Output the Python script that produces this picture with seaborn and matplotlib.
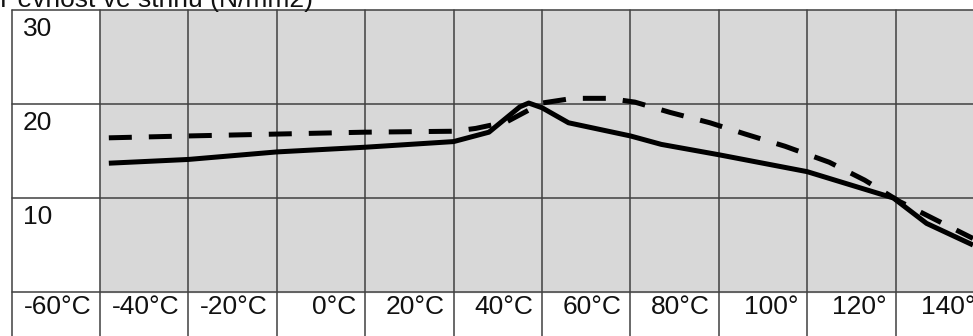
import numpy as np
import pandas as pd
import matplotlib
matplotlib.use("Agg")
import matplotlib.pyplot as plt
import seaborn as sns

# === Data (temperature in °C, strength in N/mm2) ===
solid_t = [-58, -40, -20, 0, 20, 28, 35, 37, 40, 46, 60, 67, 80, 100, 119.5, 127, 137.5]
solid_v = [13.7, 14.1, 14.9, 15.4, 16.0, 17.0, 19.7, 20.1, 19.6, 18.0, 16.6, 15.7, 14.6, 12.8, 10.0, 7.3, 5.0]

dashed_t = [-58, -40, -20, 0, 20, 25, 32, 40, 47, 55, 61, 69, 78, 86, 95, 105, 113, 121, 129, 137.5]
dashed_v = [16.4, 16.6, 16.8, 17.0, 17.1, 17.4, 18.1, 20.1, 20.6, 20.6, 20.2, 19.1, 18.0, 16.8, 15.5, 13.8, 11.9, 9.6, 7.7, 5.7]

x_ticks = [-60, -40, -20, 0, 20, 40, 60, 80, 100, 120, 140]
x_labels = ["-60°C", "-40°C", "-20°C", "0°C", "20°C", "40°C", "60°C", "80°C", "100°", "120°", "140°"]
y_ticks = [10, 20, 30]
y_labels = ["10", "20", "30"]
title = "Pevnost ve střihu (N/mm2)"

df = pd.concat([
    pd.DataFrame({"t": solid_t, "v": solid_v, "serie": "a"}),
    pd.DataFrame({"t": dashed_t, "v": dashed_v, "serie": "b"}),
])

sns.set_theme(style="white")
plt.rcParams["font.family"] = ["Liberation Sans", "DejaVu Sans"]

fig = plt.figure(figsize=(9.73, 3.36), dpi=100)
ax = fig.add_axes([0, 0, 1, 1])
ax.set_xlim(-82.62, 137.51)
ax.set_ylim(-4.68, 31.06)
ax.axis("off")

# gray plot area
ax.fill_between([-60, 160], 0, 30, color="#d8d8d8", zorder=0)

# table-like grid
grid_c = "#404040"
for x in [-80] + x_ticks:
    ax.plot([x, x], [-10, 30], color=grid_c, lw=1.1, zorder=1)
for y in [0] + y_ticks:
    ax.plot([-80, 160], [y, y], color=grid_c, lw=1.1, zorder=1)

sns.lineplot(data=df, x="t", y="v", style="serie", color="black",
             dashes={"a": "", "b": (4.6, 3.4)}, linewidth=3.6,
             legend=False, ax=ax, zorder=3)
for ln in ax.lines[-2:]:
    ln.set_dash_capstyle("butt")
    ln.set_solid_capstyle("butt")
ax.set_xlim(-82.62, 137.51)
ax.set_ylim(-4.68, 31.06)

fs = 19
for x, lab in zip(x_ticks, x_labels):
    ax.text(x - 2.0, -2.34, lab, ha="right", va="baseline", fontsize=fs, color="#111111")
for y, lab in zip(y_ticks, y_labels):
    ax.text(-77.5, y - 2.8, lab, ha="left", va="baseline", fontsize=fs, color="#111111")
ax.text(-82.6, 30.3, title, ha="left", va="baseline", fontsize=fs, color="#111111")

fig.savefig("out.png", dpi=100)
